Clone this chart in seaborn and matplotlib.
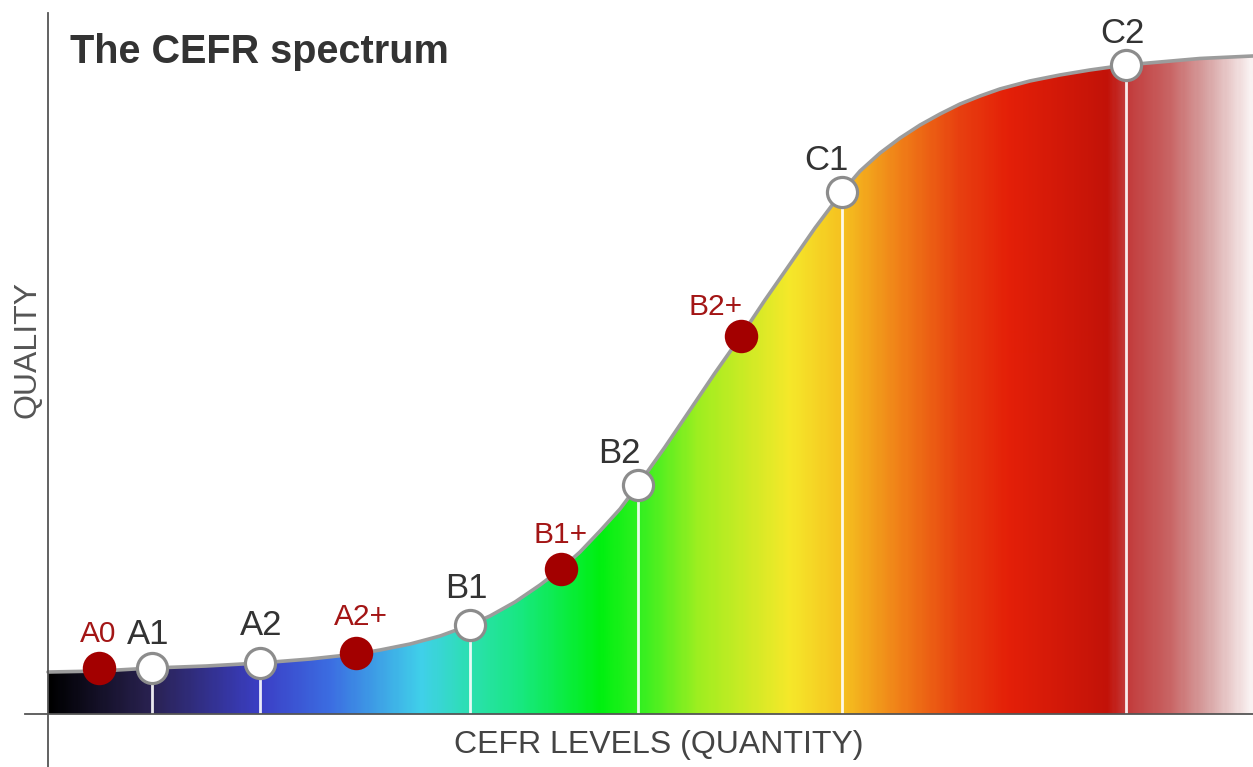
import numpy as np
import matplotlib
matplotlib.use("Agg")
import matplotlib.pyplot as plt
from matplotlib.colors import LinearSegmentedColormap
from matplotlib.patches import Polygon
import seaborn as sns

# curve (quantity vs quality)
curve_x = [0, 4.32, 8.63, 13.11, 17.59, 21.74, 25.56, 27.55, 30.04, 32.53,
           35.02, 36.68, 38.76, 40.83, 42.57, 44.15, 45.81, 47.47, 48.96,
           51.20, 53.28, 55.35, 57.51, 59.50, 61.58, 63.65, 65.89, 67.39,
           69.05, 70.71, 72.37, 74.02, 75.68, 77.34, 79.00, 81.49, 83.98,
           86.47, 89.46, 92.28, 95.60, 100]
curve_y = [5.88, 6.02, 6.44, 6.72, 7.14, 7.70, 8.40, 8.96, 9.80, 10.92,
           12.46, 13.73, 15.69, 18.07, 20.31, 22.69, 25.63, 28.71, 32.07,
           37.39, 42.58, 47.76, 52.94, 57.98, 63.03, 68.07, 73.11, 76.05,
           78.57, 80.67, 82.49, 84.03, 85.43, 86.55, 87.54, 88.66, 89.50,
           90.20, 90.90, 91.32, 91.81, 92.16]

# main CEFR levels (white points)
levels = ["A1", "A2", "B1", "B2", "C1", "C2"]
level_x = [8.6, 17.6, 35.0, 49.0, 65.9, 89.5]
level_y = [6.5, 7.1, 12.5, 32.1, 73.1, 90.9]

# intermediate levels (red points)
plus_levels = ["A0", "A2+", "B1+", "B2+"]
plus_x = [4.2, 25.6, 42.6, 57.5]
plus_y = [6.4, 8.5, 20.3, 52.9]

# label offsets in pixels (dx, dy of baseline)
level_off = {"A1": (-3, 24), "A2": (1, 28), "B1": (-3, 27), "B2": (-19, 22),
             "C1": (-16, 22), "C2": (-4, 22)}
plus_off = {"A0": (0, 26), "A2+": (4, 28), "B1+": (-1, 26), "B2+": (-25, 21)}

# spectrum colours along the x axis
stops = [
    (0.0, "#000000"), (0.085, "#2a2252"), (0.176, "#3b3fc6"), (0.234, "#3c6ee2"),
    (0.309, "#40d0ea"), (0.350, "#2ce0b0"), (0.392, "#18e880"), (0.458, "#00f010"),
    (0.491, "#30f020"), (0.541, "#a0ee20"), (0.616, "#f6e82a"), (0.661, "#f5c020"),
    (0.707, "#f08018"), (0.757, "#e84010"), (0.798, "#e42008"), (0.881, "#c21208"),
    (0.896, "#c23a3a"), (0.931, "#c86262"), (0.964, "#d8a4a4"), (1.0, "#faf2f2"),
]
cmap = LinearSegmentedColormap.from_list("cefr", stops, N=512)

sns.set_theme(style="white")
plt.rcParams["font.family"] = ["Liberation Sans", "DejaVu Sans"]

fig = plt.figure(figsize=(12.53, 7.67), dpi=100)
ax = fig.add_axes([0, 0, 1, 1])
ax.set_xlim(-48 / 12.05, 100)
ax.set_ylim(-53 / 7.14, 100)

# gradient fill under the curve
grad = np.linspace(0, 1, 600).reshape(1, -1)
im = ax.imshow(grad, extent=[0, 100, 0, 100], aspect="auto", cmap=cmap,
               origin="lower", zorder=1)
verts = list(zip(curve_x, curve_y)) + [(100, 0), (0, 0)]
clip = Polygon(verts, closed=True, facecolor="none", edgecolor="none")
ax.add_patch(clip)
im.set_clip_path(clip)

# white drop lines
ax.vlines(level_x, 0, level_y, color="white", lw=2, alpha=0.9, zorder=2)

sns.lineplot(x=curve_x, y=curve_y, ax=ax, color="#9c9c9c", lw=2.6,
             sort=False, zorder=3, solid_joinstyle="round")

sns.scatterplot(x=level_x, y=level_y, ax=ax, s=470, color="white",
                edgecolor="#8c8c8c", linewidth=2.3, zorder=4)
sns.scatterplot(x=plus_x, y=plus_y, ax=ax, s=580, color="#a30000",
                edgecolor="#a30000", linewidth=0, zorder=4)

for name, x, y in zip(levels, level_x, level_y):
    dx, dy = level_off[name]
    ax.annotate(name, (x, y), xytext=(dx, dy), textcoords="offset pixels",
                ha="center", va="baseline", fontsize=25, color="#333333",
                zorder=5)
for name, x, y in zip(plus_levels, plus_x, plus_y):
    dx, dy = plus_off[name]
    ax.annotate(name, (x, y), xytext=(dx, dy), textcoords="offset pixels",
                ha="center", va="baseline", fontsize=21.5, color="#a31515",
                zorder=5)

# axes lines
for s in ["top", "right"]:
    ax.spines[s].set_visible(False)
ax.spines["left"].set_position(("data", 0))
ax.spines["bottom"].set_position(("data", 0))
ax.spines["left"].set_bounds(-7.42, 98.2)
ax.spines["bottom"].set_bounds(-1.9, 100)
for s in ["left", "bottom"]:
    ax.spines[s].set_color("#555555")
    ax.spines[s].set_linewidth(1.3)
    ax.spines[s].set_zorder(6)
ax.set_xticks([])
ax.set_yticks([])
ax.patch.set_alpha(0)

ax.text(1.83, 91.2, "The CEFR spectrum", fontsize=28.5, fontweight="bold",
        color="#333333", ha="left", va="baseline")
ax.text(50.7, -5.46, "CEFR LEVELS (QUANTITY)", fontsize=23, color="#444444",
        ha="center", va="baseline")
ax.text(-1.74, 51.1, "QUALITY", fontsize=23, color="#555555", rotation=90,
        ha="center", va="center")

fig.savefig("out.png", dpi=100, facecolor="white")
